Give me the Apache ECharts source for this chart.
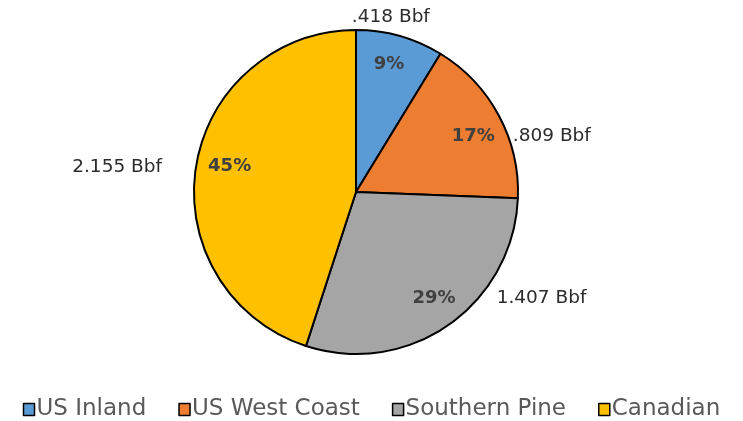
<!DOCTYPE html>
<html>
<head>
<meta charset="utf-8">
<script src="https://cdn.jsdelivr.net/npm/echarts@6/dist/echarts.min.js"></script>
<style>
  html, body { margin: 0; padding: 0; background: #fff; }
  #chart { width: 743px; height: 421px; }
</style>
</head>
<body>
<div id="chart"></div>
<script>
// Lumber supply by region, billion board feet
const regions = ['US Inland', 'US West Coast', 'Southern Pine', 'Canadian'];
const volumes = [0.418, 0.809, 1.407, 2.155];
const volumeLabels = ['.418 Bbf', '.809 Bbf', '1.407 Bbf', '2.155 Bbf'];
const sliceColors = ['#5B9BD5', '#ED7D31', '#A5A5A5', '#FFC000'];

// nudges for the outside value labels and the percentage labels (px)
const labelNudge = [[-53, -19], [9, 21], [43, -27], [-29, 1]];
const pctNudge = [[-3, 0], [0, 7], [2, -3], [5, -5]];

const FONT = 'DejaVu Sans';
const total = volumes.reduce((a, b) => a + b, 0);

const sliceData = regions.map((name, i) => ({
  name,
  value: volumes[i],
  itemStyle: { color: sliceColors[i] }
}));

const chart = echarts.init(document.getElementById('chart'), null, { renderer: 'canvas' });

chart.setOption({
  backgroundColor: '#ffffff',
  animation: false,
  legend: {
    data: regions,
    left: 'center',
    top: 393,
    icon: 'rect',
    itemWidth: 11,
    itemHeight: 12,
    itemGap: 32,
    itemStyle: { borderColor: '#000', borderWidth: 1.5 },
    textStyle: { fontFamily: FONT, fontSize: 23, color: '#595959', padding: [0, 0, 0, -3] }
  },
  series: [
    {
      // filled slices with value labels outside
      type: 'pie',
      center: [356, 192],
      radius: [0, 162],
      startAngle: 90,
      clockwise: true,
      avoidLabelOverlap: false,
      silent: true,
      itemStyle: { borderColor: '#000', borderWidth: 2 },
      label: {
        show: true,
        position: 'outside',
        distanceToLabelLine: 5,
        fontFamily: FONT,
        fontSize: 18.5,
        color: '#2b2b2b',
        formatter: p => volumeLabels[p.dataIndex]
      },
      labelLine: { show: false, length: 0, length2: 0 },
      labelLayout: p => ({ dx: labelNudge[p.dataIndex][0], dy: labelNudge[p.dataIndex][1] }),
      data: sliceData
    },
    {
      // transparent ring that carries the percentage labels
      type: 'pie',
      center: [356, 192],
      radius: [98, 162],
      startAngle: 90,
      clockwise: true,
      silent: true,
      avoidLabelOverlap: false,
      itemStyle: { color: 'rgba(0,0,0,0)', borderWidth: 0 },
      label: {
        show: true,
        position: 'inside',
        fontFamily: FONT,
        fontSize: 18,
        fontWeight: 'bold',
        color: '#404040',
        formatter: p => Math.round(p.value / total * 100) + '%'
      },
      labelLine: { show: false },
      labelLayout: p => ({ dx: pctNudge[p.dataIndex][0], dy: pctNudge[p.dataIndex][1] }),
      emphasis: { disabled: true },
      data: regions.map((name, i) => ({ name, value: volumes[i] }))
    }
  ]
});
</script>
</body>
</html>
